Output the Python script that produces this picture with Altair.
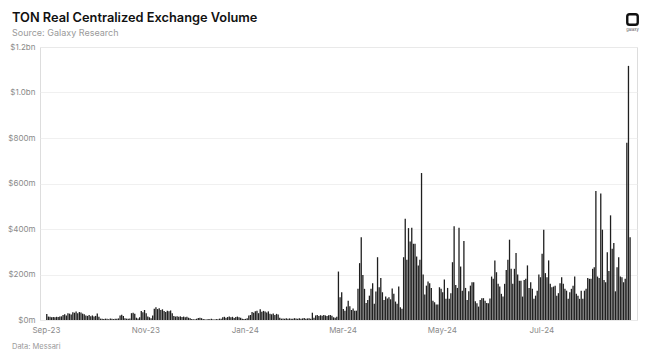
import altair as alt
import pandas as pd

# Daily real CEX volume for TON, in $ millions
sep23 = [26, 15, 14, 12, 13, 12, 14, 13, 15, 16, 22, 25, 20, 30, 28, 24, 34, 32, 37, 30,
         35, 33, 28, 25, 20, 18, 22, 17, 20, 15]
oct23 = [18, 29, 14, 6, 5, 4, 6, 5, 3, 7, 5, 4, 6, 5, 7, 20, 23, 18, 8, 6, 5, 7,
         30, 32, 28, 10, 7, 12, 40, 34, 44]
nov23 = [30, 15, 12, 8, 20, 50, 56, 48, 52, 44, 47, 40, 35, 41, 38, 42, 30, 18,
         15, 17, 14, 16, 13, 15, 12, 14, 10, 8, 4, 3]
dec23 = [3, 5, 9, 10, 8, 4, 3, 2, 4, 3, 5, 3, 2, 4, 3, 6, 5,
         12, 14, 10, 13, 15, 12, 14, 9, 13, 15, 12, 10, 6, 4]
jan24 = [5, 8, 20, 22, 35, 32, 38, 41, 30, 47, 36, 40, 37, 33, 38, 28, 25, 29, 22, 27, 24,
         10, 6, 7, 5, 8, 6, 7, 5, 6, 8]
feb24 = [7, 6, 8, 5, 7, 9, 6, 7, 8, 6, 32, 10, 20, 22, 18, 21, 19, 22, 20, 18, 21, 22, 19,
         12, 10, 14, 213, 100, 122]
mar24 = [48, 41, 59, 85, 60, 44, 51, 41, 41, 137, 250, 364, 198, 137, 75, 88, 107, 137,
         161, 71, 125, 276, 144, 185, 122, 88, 103, 95, 100, 91, 139]
apr24 = [115, 81, 71, 147, 56, 50, 276, 445, 265, 404, 345, 406, 335, 335, 279, 240, 265,
         646, 200, 112, 151, 169, 162, 141, 85, 78, 68, 68, 144, 137]
may24 = [122, 178, 93, 141, 93, 118, 254, 412, 154, 141, 406, 235, 129, 347, 141, 88, 126,
         151, 166, 166, 82, 74, 59, 88, 96, 96, 85, 75, 74, 95, 191]
jun24 = [181, 262, 210, 159, 147, 115, 103, 159, 220, 265, 353, 225, 159, 225, 294, 200,
         173, 173, 103, 176, 181, 240, 141, 166, 137, 93, 107, 129, 200, 188]
jul24 = [291, 397, 206, 188, 262, 159, 144, 147, 151, 107, 118, 162, 188, 159, 137, 129,
         93, 122, 137, 151, 191, 115, 107, 93, 129, 93, 129, 137, 185, 181, 181]
aug24 = [225, 232, 567, 191, 185, 556, 397, 176, 166, 298, 215, 460, 313, 338, 126, 232,
         276, 191, 188, 166, 181, 779, 1117, 364]

values = sep23 + oct23 + nov23 + dec23 + jan24 + feb24 + mar24 + apr24 + may24 + jun24 + jul24 + aug24
dates = pd.date_range("2023-09-01 12:00", periods=len(values), freq="D").strftime("%Y-%m-%dT%H:%M:%SZ")
df = pd.DataFrame({"date": list(dates), "volume": values})

x_ticks = [(2023, 9), (2023, 11), (2024, 1), (2024, 3), (2024, 5), (2024, 7)]
y_ticks = [0, 200, 400, 600, 800, 1000, 1200]

title_text = "TON Real Centralized Exchange Volume"
subtitle_text = "Source: Galaxy Research"
footer_text = "Data: Messari"
logo_text_str = "galaxy"

FONT = "Inter"

bars = alt.Chart(df).mark_bar(width=1.3, color="#1f1f1f").encode(
    x=alt.X(
        "date:T",
        scale=alt.Scale(
            type="utc",
            domain=[alt.DateTime(year=2023, month=8, date=31, hours=10, utc=True),
                    alt.DateTime(year=2024, month=8, date=25, hours=16, utc=True)],
        ),
        axis=alt.Axis(
            title=None,
            values=[alt.DateTime(year=y, month=m, date=1, utc=True) for y, m in x_ticks],
            format="%b-%y",
            grid=False, domain=False, ticks=False,
            labelPadding=6, labelFont=FONT, labelFontSize=8, labelColor="#8a8a8a",
        ),
    ),
    y=alt.Y(
        "volume:Q",
        scale=alt.Scale(domain=[0, 1200], nice=False),
        axis=alt.Axis(
            title=None,
            values=y_ticks,
            labelExpr="datum.value >= 1000 ? '$' + format(datum.value / 1000, '.1f') + 'bn' : '$' + datum.value + 'm'",
            grid=True, gridColor="#ececec", gridWidth=0.8,
            domain=False, ticks=False,
            labelPadding=5, labelFont=FONT, labelFontSize=8, labelColor="#8a8a8a",
        ),
    ),
)


def text_layer(txt, x, y, size, color, weight="normal", align="left"):
    return alt.Chart(pd.DataFrame({"t": [txt]})).mark_text(
        align=align, baseline="alphabetic", font=FONT, fontSize=size,
        fontWeight=weight, color=color,
    ).encode(text="t:N", x=alt.value(x), y=alt.value(y))


title = text_layer(title_text, -28, -25.5, 12.8, "#111111", weight=600)
subtitle = text_layer(subtitle_text, -28, -11.5, 9, "#9a9a9a")
footer = text_layer(footer_text, -28, 302, 7.5, "#9a9a9a")

logo_path = "M -0.55 -1 H 0.55 Q 1 -1 1 -0.55 V 0.55 Q 1 1 0.55 1 H -0.55 Q -1 1 -1 0.55 V -0.55 Q -1 -1 -0.55 -1 Z"
logo = alt.Chart(pd.DataFrame({"t": [logo_text_str]})).mark_point(
    shape=logo_path, size=110, filled=False, stroke="#111111", strokeWidth=2.4, opacity=1
).encode(x=alt.value(592.5), y=alt.value(-27.5))
logo_text = text_layer(logo_text_str, 592.5, -16.5, 4, "#555555", align="center")

chart = alt.layer(bars, title, subtitle, footer, logo, logo_text).properties(
    width=597,
    height=273,
    autosize="none",
    padding={"left": 40, "top": 47, "right": 16, "bottom": 32},
).configure_view(stroke=None).configure(background="white")

chart.save("out.html", embed_options={"renderer": "svg", "actions": False})
